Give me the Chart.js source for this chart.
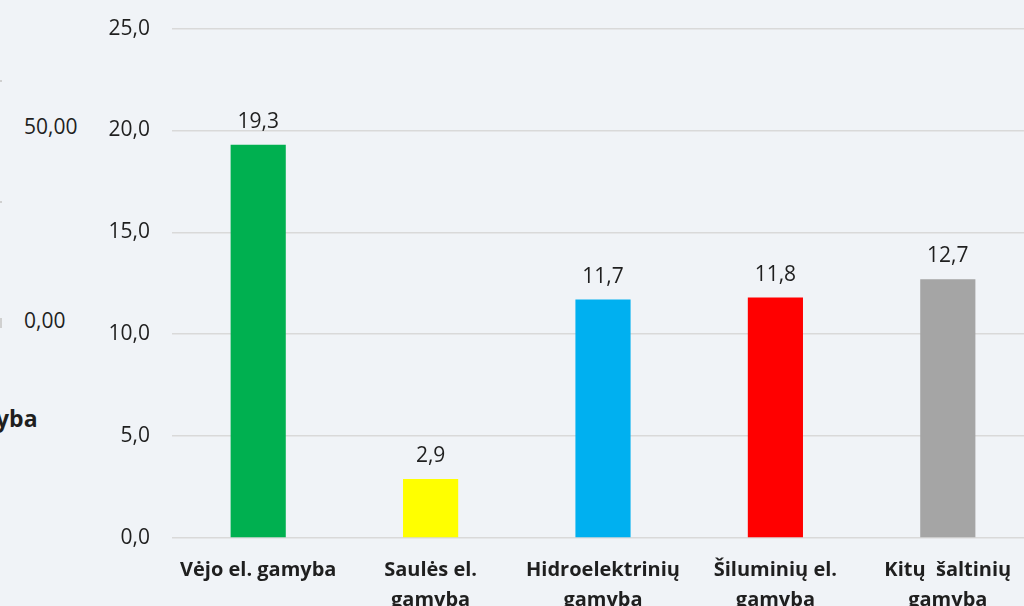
<!DOCTYPE html>
<html lang="lt">
<head>
<meta charset="utf-8">
<title>Elektros gamyba</title>
<script src="https://cdn.jsdelivr.net/npm/chart.js@4.4.1/dist/chart.umd.min.js"></script>
<style>
  html, body { margin: 0; padding: 0; background: #f0f3f7; overflow: hidden; }
  body { width: 1024px; height: 606px; position: relative; font-family: "Open Sans", sans-serif; color: #1f1f1f; }
  #wrap { position: absolute; left: 0; top: -6px; width: 1040px; height: 640px; }
  .stub { position: absolute; font-size: 21px; line-height: 1; }
  .mark { position: absolute; left: 0; width: 2px; height: 2px; background: #d0d0d0; }
</style>
</head>
<body>
<!-- likutis nuo kaimyninio grafiko kairėje -->
<div class="stub" style="left:24px; top:116px;">50,00</div>
<div class="stub" style="left:24px; top:310px;">0,00</div>
<div class="stub" style="left:-4px; top:407px; font-weight:bold; font-size:23px;">yba</div>
<div class="mark" style="top:80px;"></div>
<div class="mark" style="top:201px;"></div>
<div class="mark" style="top:318px; height:10px;"></div>

<div id="wrap"><canvas id="myChart" width="1040" height="640"></canvas></div>

<script>
// Duomenys
const kategorijos = [
  'Vėjo el. gamyba',
  ['Saulės el.', 'gamyba'],
  ['Hidroelektrinių', 'gamyba'],
  ['Šiluminių el.', 'gamyba'],
  ['Kitų  šaltinių', 'gamyba']
];
const reiksmes = [19.3, 2.9, 11.7, 11.8, 12.7];
const spalvos = ['#00b050', '#ffff00', '#00b0f0', '#ff0000', '#a5a5a5'];
const asiesZymes = [0, 5, 10, 15, 20, 25];

const kablelis = v => v.toFixed(1).replace('.', ',');

// reikšmės virš stulpelių
const reiksmiuEtiketes = {
  id: 'reiksmiuEtiketes',
  afterDatasetsDraw(chart) {
    const ctx = chart.ctx;
    const meta = chart.getDatasetMeta(0);
    ctx.save();
    ctx.font = '21px "Open Sans"';
    ctx.fillStyle = '#1f1f1f';
    ctx.textAlign = 'center';
    ctx.textBaseline = 'alphabetic';
    meta.data.forEach((bar, i) => {
      ctx.fillText(kablelis(reiksmes[i]), bar.x, bar.y - 17);
    });
    ctx.restore();
  }
};

const ctx = document.getElementById('myChart').getContext('2d');
new Chart(ctx, {
  type: 'bar',
  data: {
    labels: kategorijos,
    datasets: [{
      data: reiksmes,
      backgroundColor: spalvos,
      barPercentage: 0.32,
      categoryPercentage: 1
    }]
  },
  options: {
    responsive: false,
    animation: false,
    layout: { padding: { left: 0, right: 6, top: 11, bottom: 10 } },
    plugins: {
      legend: { display: false },
      title: { display: false },
      tooltip: { enabled: false }
    },
    scales: {
      x: {
        grid: { display: false },
        border: { display: false },
        ticks: {
          color: '#1f1f1f',
          font: { family: 'Open Sans', size: 20, weight: 'bold', lineHeight: 1.5 },
          padding: 9,
          maxRotation: 0,
          autoSkip: false
        }
      },
      y: {
        min: 0,
        max: 25,
        afterBuildTicks: scale => { scale.ticks = asiesZymes.map(v => ({ value: v })); },
        afterFit: scale => { scale.width = 172; },
        grid: { color: '#d9d9d9', lineWidth: 1.5, drawTicks: false },
        border: { display: false },
        ticks: {
          color: '#1f1f1f',
          font: { family: 'Open Sans', size: 21 },
          padding: 22,
          callback: v => kablelis(v)
        }
      }
    }
  },
  plugins: [reiksmiuEtiketes]
});
</script>
</body>
</html>
